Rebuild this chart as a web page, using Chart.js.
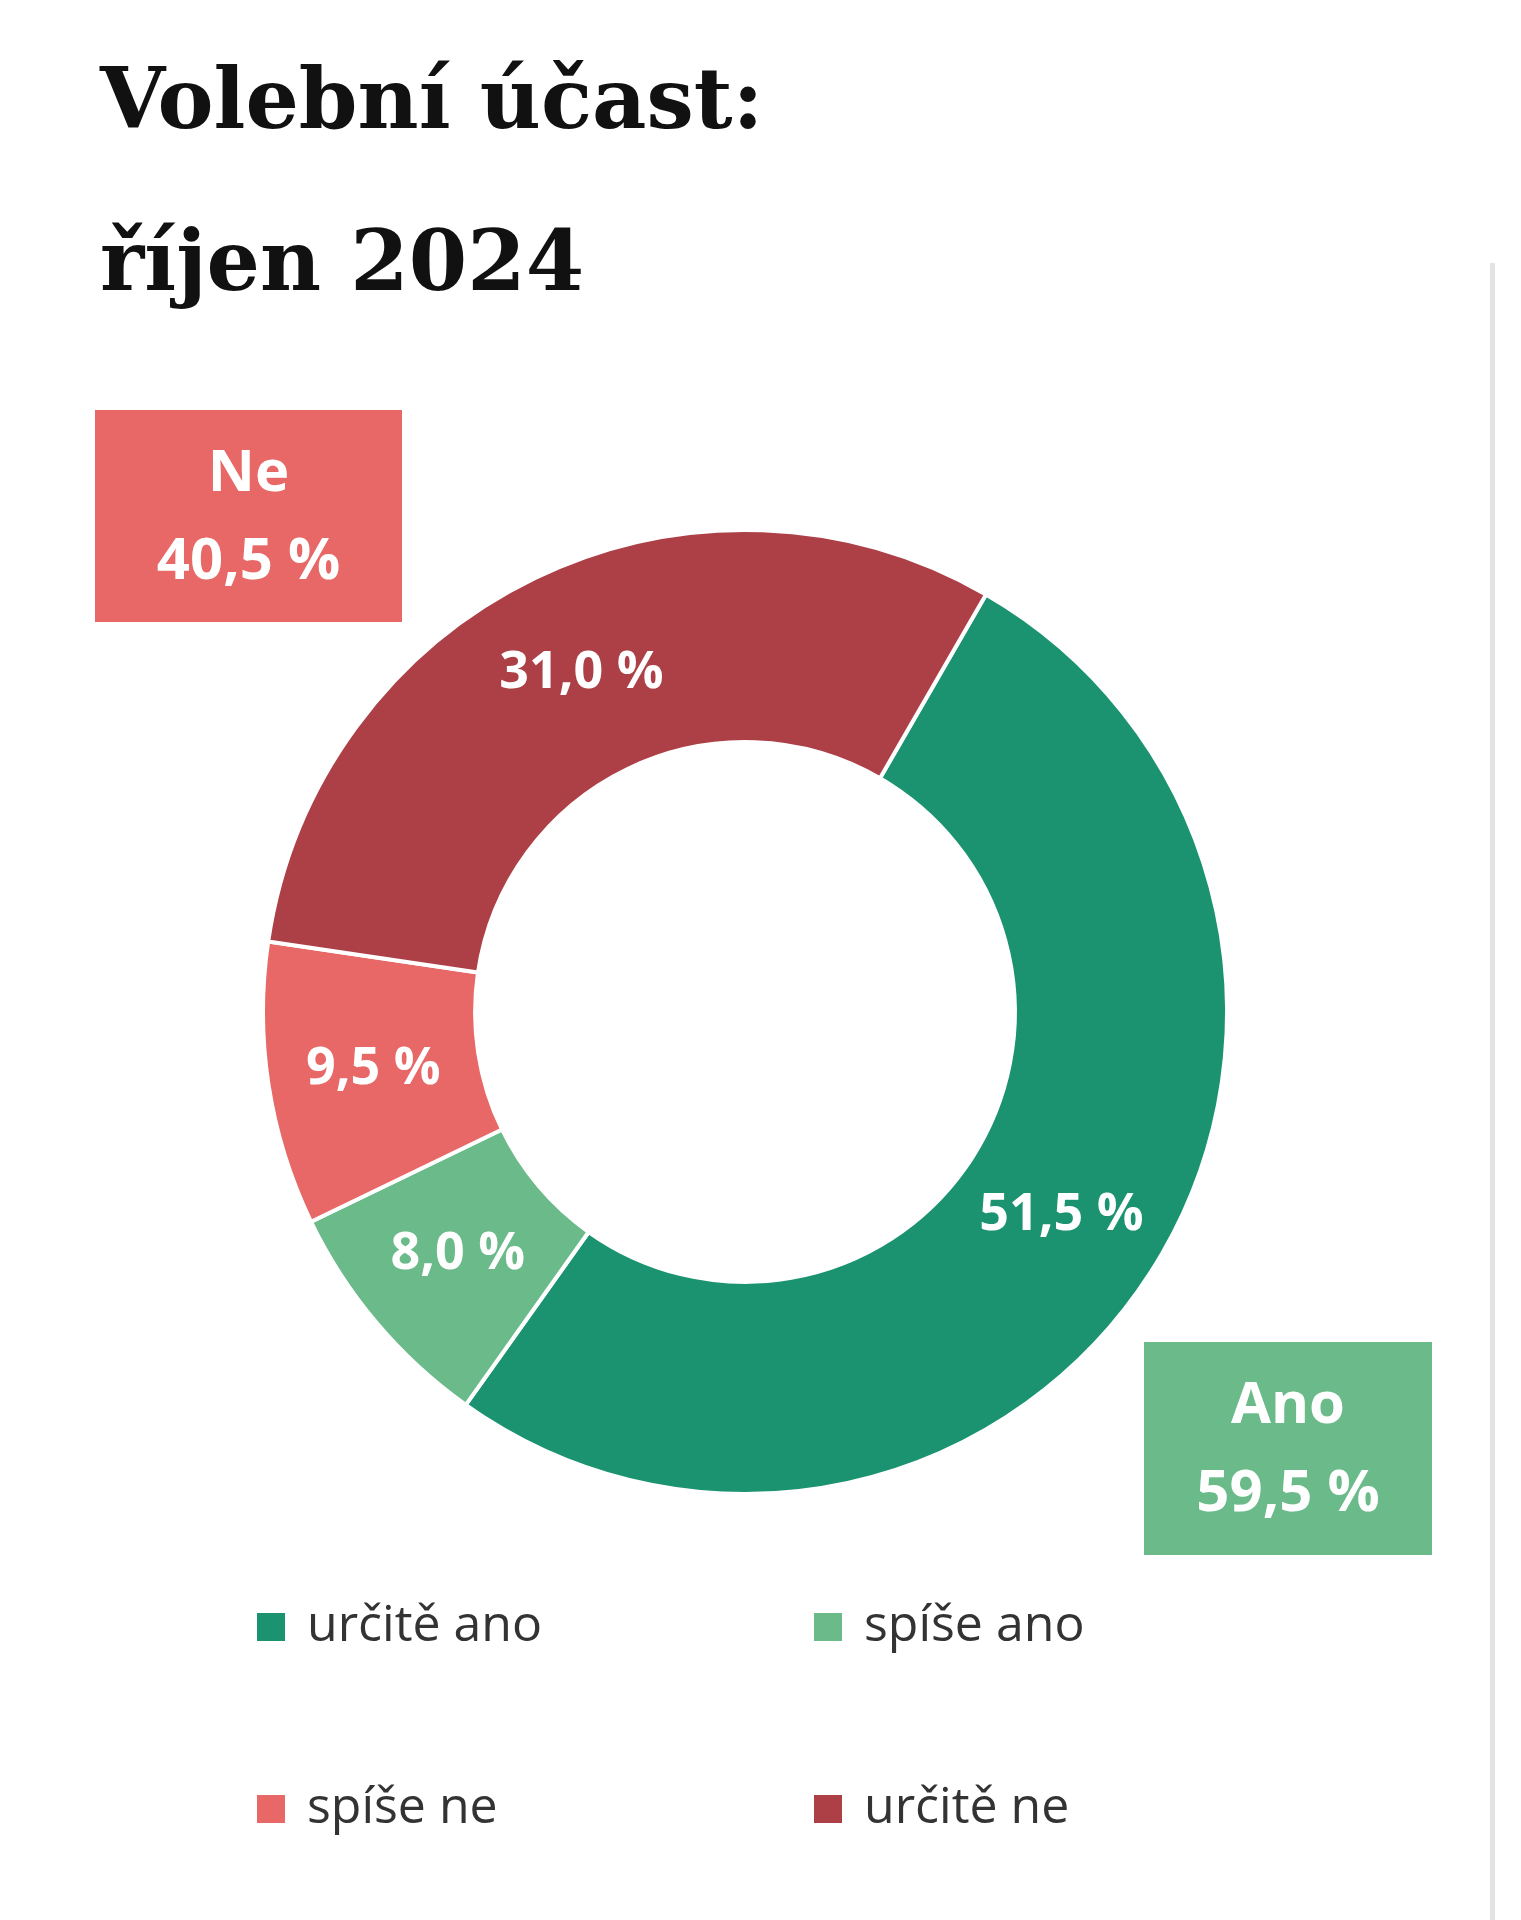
<!DOCTYPE html>
<html><head><meta charset="utf-8">
<script src="https://cdn.jsdelivr.net/npm/chart.js@4"></script>
<style>html,body{margin:0;padding:0;background:#fff}#w{width:1521px;height:1920px;position:relative}</style>
</head><body><div id="w"><canvas id="c"></canvas></div>
<script>
const titleLines = ["Volební účast:", "říjen 2024"];
const categories = ["určitě ano", "spíše ano", "spíše ne", "určitě ne"];
const values = [51.5, 8.0, 9.5, 31.0];
const colors = ["#1b9370", "#6aba8a", "#e86767", "#ad4047"];
const groupLabels = ["Ne", "Ano"];
const groupValues = [40.5, 59.5];
const fmt = v => v.toFixed(1).replace('.', ',') + ' %';

const deco = {
  id: 'deco',
  afterDraw(chart) {
    const ctx = chart.ctx;
    ctx.save();
    // right gray line
    ctx.fillStyle = '#e3e3e3';
    ctx.fillRect(1490, 263, 5, 1657);
    // title
    ctx.fillStyle = '#111';
    ctx.font = 'bold 84px "DejaVu Serif"';
    ctx.textBaseline = 'alphabetic'; ctx.textAlign = 'left';
    ctx.fillText(titleLines[0], 100, 128);
    ctx.fillText(titleLines[1], 100, 290);
    // segment labels
    const meta = chart.getDatasetMeta(0);
    ctx.fillStyle = '#fff';
    ctx.font = 'bold 52px "Open Sans"';
    ctx.textAlign = 'center'; ctx.textBaseline = 'middle';
    meta.data.forEach((arc, i) => {
      const p = arc.getCenterPoint();
      ctx.fillText(fmt(values[i]), p.x, p.y);
    });
    // group boxes
    const boxes = [
      {x: 95, y: 410, w: 307, h: 212, c: '#e86767'},
      {x: 1144, y: 1342, w: 288, h: 213, c: '#6aba8a'}
    ];
    boxes.forEach((b, i) => {
      ctx.fillStyle = b.c;
      ctx.fillRect(b.x, b.y, b.w, b.h);
      ctx.fillStyle = '#fff';
      ctx.font = 'bold 58px "Open Sans"';
      ctx.fillText(groupLabels[i], b.x + b.w / 2, b.y + 64);
      ctx.fillText(fmt(groupValues[i]), b.x + b.w / 2, b.y + 152);
    });
    // legend
    const pos = [[257, 1627], [814, 1627], [257, 1809], [814, 1809]];
    const order = [0, 1, 2, 3];
    ctx.font = '50px "Open Sans"';
    ctx.textAlign = 'left';
    order.forEach((k, j) => {
      const [x, y] = pos[j];
      ctx.fillStyle = colors[k];
      ctx.fillRect(x, y - 14, 28, 28);
      ctx.fillStyle = '#333';
      ctx.fillText(categories[k], x + 50, y);
    });
    ctx.restore();
  }
};

new Chart(document.getElementById('c'), {
  type: 'doughnut',
  data: { labels: categories, datasets: [{ data: values, backgroundColor: colors, borderColor: '#fff', borderWidth: 4 }] },
  options: {
    responsive: true, maintainAspectRatio: false, animation: false,
    rotation: 30, cutout: '56%',
    layout: { padding: { left: 261, right: 292, top: 528, bottom: 424 } },
    plugins: { legend: { display: false }, tooltip: { enabled: false } }
  },
  plugins: [deco]
});
</script></body></html>
